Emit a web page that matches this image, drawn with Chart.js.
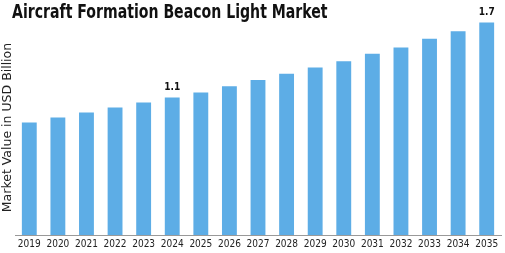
<!DOCTYPE html>
<html>
<head>
<meta charset="utf-8">
<script src="https://cdn.jsdelivr.net/npm/chart.js@4"></script>
<style>
  html, body { margin: 0; padding: 0; background: #fff; }
  #wrap { position: relative; width: 505px; height: 253px; }
  #title {
    position: absolute; left: 12px; top: 0px;
    font-family: "DejaVu Sans Condensed", "DejaVu Sans", sans-serif;
    font-stretch: condensed; font-weight: bold; font-size: 19px; color: #111;
    white-space: nowrap;
    transform: scaleX(0.825); transform-origin: 0 0;
  }
</style>
</head>
<body>
<div id="wrap">
  <canvas id="marketChart" width="505" height="253"></canvas>
  <div id="title">Aircraft Formation Beacon Light Market</div>
</div>
<script>
const years = ['2019', '2020', '2021', '2022', '2023', '2024', '2025', '2026', '2027',
               '2028', '2029', '2030', '2031', '2032', '2033', '2034', '2035'];
const marketValues = [0.90, 0.94, 0.98, 1.02, 1.06, 1.10, 1.14, 1.19, 1.24,
                      1.29, 1.34, 1.39, 1.45, 1.50, 1.57, 1.63, 1.70];
const labelledYears = ['2024', '2035'];
const yAxisTitle = 'Market Value in USD Billion';

// draws the value on top of the chosen bars
const valueLabels = {
    id: 'valueLabels',
    afterDatasetsDraw(chart) {
        const ctx = chart.ctx;
        const meta = chart.getDatasetMeta(0);
        ctx.save();
        ctx.font = 'bold 10px "DejaVu Sans Condensed", "DejaVu Sans", sans-serif';
        ctx.fillStyle = '#111';
        ctx.textAlign = 'center';
        ctx.textBaseline = 'bottom';
        meta.data.forEach((bar, i) => {
            if (labelledYears.includes(years[i])) {
                ctx.fillText(marketValues[i].toFixed(1), bar.x, bar.y - 5);
            }
        });
        ctx.restore();
    }
};

const ctx = document.getElementById('marketChart').getContext('2d');
const marketChart = new Chart(ctx, {
    type: 'bar',
    data: {
        labels: years,
        datasets: [{
            data: marketValues,
            backgroundColor: '#5DADE6',
            borderWidth: 0,
            barPercentage: 0.52,
            categoryPercentage: 1.0
        }]
    },
    options: {
        responsive: false,
        animation: false,
        layout: { padding: { top: 20, right: 4, bottom: 0, left: 0 } },
        plugins: {
            legend: { display: false },
            tooltip: { enabled: false }
        },
        scales: {
            x: {
                grid: { display: false, drawTicks: false },
                border: { display: true, color: '#999', width: 1 },
                ticks: {
                    color: '#222',
                    padding: 3,
                    maxRotation: 0,
                    font: { family: '"DejaVu Sans Condensed", "DejaVu Sans", sans-serif', size: 10 }
                }
            },
            y: {
                min: 0,
                max: 1.72,
                grid: { display: false, drawTicks: false },
                border: { display: false },
                ticks: { display: false },
                title: {
                    display: true,
                    text: yAxisTitle,
                    color: '#222',
                    padding: { top: 0, bottom: 0 },
                    font: { family: '"DejaVu Sans", sans-serif', size: 12.5 }
                }
            }
        }
    },
    plugins: [valueLabels]
});
</script>
</body>
</html>
